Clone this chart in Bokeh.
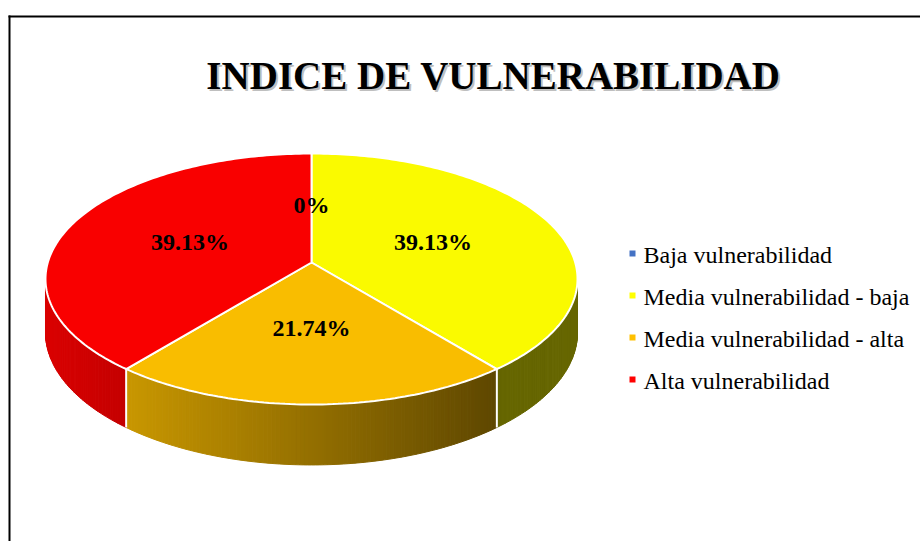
import math
from bokeh.plotting import figure
from bokeh.models import Range1d
from bokeh.core.properties import value
from bokeh.embed import file_html
from bokeh.resources import INLINE

# ---------------- data ----------------
title_text = "INDICE DE VULNERABILIDAD"
categories = ["Baja vulnerabilidad", "Media vulnerabilidad - baja",
              "Media vulnerabilidad - alta", "Alta vulnerabilidad"]
percentages = [0.0, 39.13, 21.74, 39.13]
pct_labels = ["0%", "39.13%", "21.74%", "39.13%"]
top_colors = ["#4472C4", "#FAFA00", "#F9BD00", "#F90000"]
legend_colors = ["#4472C4", "#FFFF00", "#FFC000", "#FF0000"]
# side shading (left colour, right colour) for each slice
side_colors = [("#2F5597", "#2F5597"), ("#666600", "#666600"),
               ("#C99700", "#5E4700"), ("#DA0000", "#C40000")]

# ---------------- layout / projection ----------------
W, H = 920, 541
CX, CY = 311.0, 262.0      # pie centre (pixels in plot space)
S, T = 263.7, 123.3        # horizontal / vertical radius scale
K = 0.1316                 # perspective factor
D = 52.5                   # thickness


def proj(theta_deg, r=1.0, depth=0.0):
    t = math.radians(theta_deg)
    u = r * math.sin(t)
    v = r * math.cos(t)
    w = 1.0 + K * v
    return CX + S * u / w, CY - T * v / w + depth * D / w


def hex2rgb(h):
    h = h.lstrip("#")
    return tuple(int(h[i:i + 2], 16) for i in (0, 2, 4))


def mix(c1, c2, f):
    a, b = hex2rgb(c1), hex2rgb(c2)
    f = min(max(f, 0.0), 1.0)
    return "#%02x%02x%02x" % tuple(int(round(a[i] + (b[i] - a[i]) * f)) for i in range(3))


p = figure(width=W, height=H, output_backend="svg", toolbar_location=None,
           x_range=Range1d(0, W), y_range=Range1d(H, 0), min_border=0,
           outline_line_color=None, background_fill_color="white",
           border_fill_color="white")
p.axis.visible = False
p.grid.visible = False

total = sum(percentages)
starts, ends = [], []
acc = 0.0
for val in percentages:
    starts.append(acc / total * 360.0)
    acc += val
    ends.append(acc / total * 360.0)

# visible side range (silhouette)
th_r = math.degrees(math.acos(-K))
th_l = 360.0 - th_r

# ---------------- sides ----------------
sx, sy, sc = [], [], []
for i in range(len(percentages)):
    a0, a1 = max(starts[i], th_r), min(ends[i], th_l)
    if a1 <= a0:
        continue
    n = max(2, int((a1 - a0) / 0.75))
    xl = min(proj(a0)[0], proj(a1)[0])
    xr = max(proj(a0)[0], proj(a1)[0])
    if i == 3:
        xl = CX - S / math.sqrt(1 - K * K)
    if i == 1:
        xr = CX + S / math.sqrt(1 - K * K)
    for j in range(n):
        b0 = a0 + (a1 - a0) * j / n
        b1 = a0 + (a1 - a0) * (j + 1) / n
        p0, p1 = proj(b0), proj(b1)
        q1, q0 = proj(b1, depth=1), proj(b0, depth=1)
        sx.append([p0[0], p1[0], q1[0], q0[0]])
        sy.append([p0[1], p1[1], q1[1], q0[1]])
        xm = (p0[0] + p1[0]) / 2
        f = (xm - xl) / (xr - xl) if xr > xl else 0
        sc.append(mix(side_colors[i][0], side_colors[i][1], f))
p.patches(sx, sy, fill_color=sc, line_color=sc, line_width=1)

# white edges on the side at visible slice boundaries
ex0, ey0, ex1, ey1 = [], [], [], []
for b in ends[:-1]:
    if th_r < b < th_l:
        a = proj(b)
        c = proj(b, depth=1)
        ex0.append(a[0]); ey0.append(a[1]); ex1.append(c[0]); ey1.append(c[1])
p.segment(ex0, ey0, ex1, ey1, line_color="white", line_width=2)

# ---------------- top face ----------------
tx, ty, tc = [], [], []
for i in range(len(percentages)):
    if percentages[i] <= 0:
        continue
    n = max(2, int((ends[i] - starts[i]) / 1.0))
    xs, ys = [CX], [CY]
    for j in range(n + 1):
        a = starts[i] + (ends[i] - starts[i]) * j / n
        x, y = proj(a)
        xs.append(x); ys.append(y)
    tx.append(xs); ty.append(ys); tc.append(top_colors[i])
p.patches(tx, ty, fill_color=tc, line_color="white", line_width=2)

# ---------------- percentage labels ----------------
lx, ly = [], []
for i in range(len(percentages)):
    x, y = proj((starts[i] + ends[i]) / 2, r=0.5)
    lx.append(x); ly.append(y)
p.text(lx, ly, text=pct_labels, text_font=value("Liberation Serif"),
       text_font_style="bold", text_font_size="24px", text_align="center",
       text_baseline="middle", text_color="black")

# ---------------- legend ----------------
LX, LY0, LDY = 632, 253, 42
leg_y = [LY0 + LDY * i for i in range(len(categories))]
p.scatter([LX] * len(categories), leg_y, marker="square", size=6,
          fill_color=legend_colors, line_color=None)
p.text([LX + 11] * len(categories), [y + 1 for y in leg_y], text=categories,
       text_font=value("Liberation Serif"), text_font_size="24px",
       text_align="left", text_baseline="middle", text_color="black")

# ---------------- title ----------------
p.text([495], [77], text=[title_text], text_font=value("Liberation Serif"),
       text_font_style="bold", text_font_size="39px", text_align="center",
       text_baseline="middle", text_color="#808080", text_alpha=0.5)
p.text([493], [75], text=[title_text], text_font=value("Liberation Serif"),
       text_font_style="bold", text_font_size="39px", text_align="center",
       text_baseline="middle", text_color="black")

# ---------------- chart frame ----------------
p.segment([8, 9], [16, 15], [W, 9], [16, H], line_color="black", line_width=2)

open("out.html", "w").write(file_html(p, INLINE))
